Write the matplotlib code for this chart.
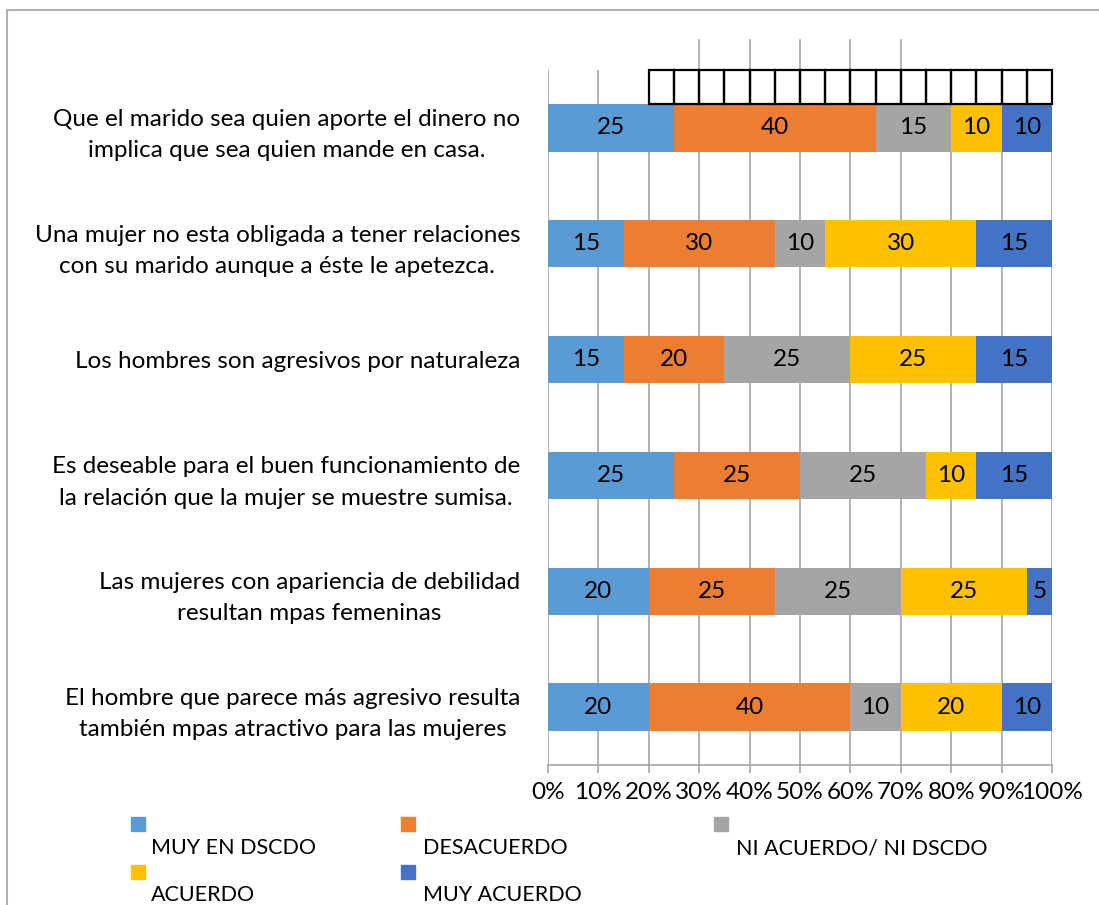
import numpy as np
import matplotlib.pyplot as plt
from matplotlib.patches import Rectangle

plt.rcParams['font.family'] = ['Lato', 'DejaVu Sans']

# ---- data ----
categories = [
    "Que el marido sea quien aporte el dinero no\nimplica que sea quien mande en casa.",
    "Una mujer no esta obligada a tener relaciones\ncon su marido aunque a éste le apetezca.",
    "Los hombres son agresivos por naturaleza",
    "Es deseable para el buen funcionamiento de\nla relación que la mujer se muestre sumisa.",
    "Las mujeres con apariencia de debilidad\nresultan mpas femeninas",
    "El hombre que parece más agresivo resulta\ntambién mpas atractivo para las mujeres",
]
series_names = ["MUY EN DSCDO", "DESACUERDO", "NI ACUERDO/ NI DSCDO", "ACUERDO", "MUY ACUERDO"]
muy_en_dscdo = [25, 15, 15, 25, 20, 20]
desacuerdo   = [40, 30, 20, 25, 25, 40]
ni_ni        = [15, 10, 25, 25, 25, 10]
acuerdo      = [10, 30, 25, 10, 25, 20]
muy_acuerdo  = [10, 15, 15, 15, 5, 10]
colors = ["#5B9BD5", "#ED7D31", "#A5A5A5", "#FFC000", "#4472C4"]
tick_labels = [f"{v}%" for v in range(0, 101, 10)]

series = [muy_en_dscdo, desacuerdo, ni_ni, acuerdo, muy_acuerdo]
FS = 17.5

W, H = 1099, 905
fig = plt.figure(figsize=(W / 100, H / 100), dpi=100)
ax = fig.add_axes([548 / W, 1 - 765 / H, (1052 - 548) / W, (765 - 70) / H])

# outer chart border
fig.patches.append(Rectangle((7 / W, -0.1), 1.2, 1 - 10 / H + 0.1, transform=fig.transFigure,
                             fill=False, edgecolor="#B0B0B0", lw=1.5))

y = np.arange(len(categories))
totals = np.sum(series, axis=0)
left = np.zeros(len(categories))
bar_h = 0.41
for vals, col in zip(series, colors):
    pct = np.array(vals) / totals * 100
    ax.barh(y, pct, left=left, height=bar_h, color=col, zorder=3)
    for yi, l, p, v in zip(y, left, pct, vals):
        ax.text(l + p / 2, yi, str(v), ha="center", va="center", fontsize=FS, color="black", zorder=4)
    left += pct

ax.set_xlim(0, 100)
ax.set_ylim(len(categories) - 0.5, -0.5)
ax.set_xticks(range(0, 101, 10))
ax.set_xticklabels(tick_labels, fontsize=FS)
ax.set_yticks(y)
ax.set_yticklabels(categories, fontsize=FS, multialignment="center", linespacing=1.6)
ax.tick_params(axis="y", length=0, pad=20)
ax.tick_params(axis="x", length=6, color="#A6A6A6", width=1.2, pad=6)
ax.grid(axis="x", color="#A6A6A6", lw=1.2, zorder=0)
for s in ["top", "right", "left"]:
    ax.spines[s].set_visible(False)
ax.spines["bottom"].set_color("#A6A6A6")
ax.spines["bottom"].set_linewidth(1.2)

# stray table cells above the first bar
for x0 in range(20, 100, 5):
    ax.add_patch(Rectangle((x0, -0.5), 5, 0.5 - bar_h / 2, fill=False, edgecolor="black",
                           lw=1.6, zorder=5, clip_on=False))
# gridline stubs above the plot area
for xv in range(30, 71, 10):
    ax.plot([xv, xv], [-0.5, -0.5 - 30 / 115.8], color="#A6A6A6", lw=1.2, clip_on=False, zorder=1)

# legend drawn manually
leg_x_sq = [131, 401, 714, 131, 401]
leg_x_tx = [151, 423, 736, 151, 423]
leg_y_sq = [817, 817, 817, 865, 865]
leg_y_tx = [848, 848, 848, 895, 895]
for i, name in enumerate(series_names):
    fig.patches.append(Rectangle((leg_x_sq[i] / W, 1 - (leg_y_sq[i] + 14) / H), 14 / W, 14 / H,
                                 transform=fig.transFigure, color=colors[i]))
    fig.text(leg_x_tx[i] / W, 1 - leg_y_tx[i] / H, name, fontsize=15.5, ha="left", va="center")

fig.savefig("out.png", dpi=100)
